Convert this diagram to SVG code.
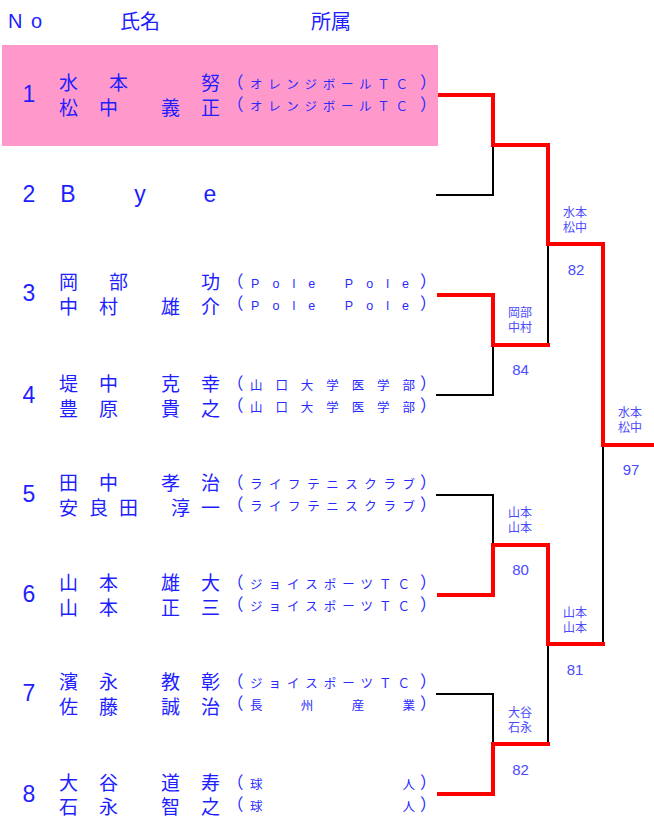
<svg xmlns="http://www.w3.org/2000/svg" width="654" height="818" viewBox="0 0 654 818">
<style>
.hd{font-family:"Liberation Sans","Noto Sans CJK JP",sans-serif;font-size:20px;fill:#1e1eff}
.nm{font-family:"Noto Sans CJK JP",sans-serif;font-size:19px;fill:#1e1eff}
.no{font-family:"Liberation Sans",sans-serif;font-size:23px;fill:#1e1eff;text-anchor:middle}
.af{font-family:"Liberation Sans","Noto Sans CJK JP",sans-serif;font-size:12.5px;fill:#2a2aff}
.pr{font-family:"Noto Sans CJK JP",sans-serif;font-size:16.5px;fill:#2a2aff}
.lb{font-family:"Noto Sans CJK JP",sans-serif;font-size:12px;fill:#4a4aff;text-anchor:middle}
.sc{font-family:"Liberation Sans",sans-serif;font-size:15px;fill:#4a4aff;text-anchor:middle}
.red{stroke:#ff0000;stroke-width:4;fill:none;stroke-linejoin:miter;stroke-linecap:square}
.blk{stroke:#000;stroke-width:2;fill:none;stroke-linecap:square}
</style>
<rect x="0" y="0" width="654" height="818" fill="#ffffff"/>
<g id="header">
<text class="hd" x="8 31" y="28">No</text>
<text class="hd" x="120" y="28.5">氏名</text>
<text class="hd" x="311" y="28.5">所属</text>
</g>
<rect id="highlight" x="2" y="45" width="436" height="101" fill="#ff99cc"/>
<g id="connectors">
<path class="blk" d="M437 195 H493 V145"/>
<path class="blk" d="M437 395 H493 V345"/>
<path class="blk" d="M548 244 V345"/>
<path class="blk" d="M437 495 H493 V545"/>
<path class="blk" d="M603 445 V644"/>
<path class="blk" d="M437 694 H493 V744"/>
<path class="blk" d="M548 644 V744"/>
<path class="red" d="M440 95 H493 V145 H548 V244 H603 V445 H656"/>
<path class="red" d="M439 295 H493 V345 H548"/>
<path class="red" d="M439 595 H493 V545 H548 V644 H603"/>
<path class="red" d="M439 794 H493 V744 H548"/>
</g>
<g id="entry1">
<text class="no" x="29" y="102">1</text>
<text class="nm" x="59 109 201" y="90">水本努</text>
<text class="nm" x="59 99 161 201" y="115">松中義正</text>
<text class="pr" x="227" y="89">（</text><text class="af" x="250" y="88.5" textLength="158" lengthAdjust="spacing">オレンジボールＴＣ</text><text class="pr" x="420" y="89">）</text>
<text class="pr" x="227" y="111">（</text><text class="af" x="250" y="110.5" textLength="158" lengthAdjust="spacing">オレンジボールＴＣ</text><text class="pr" x="420" y="111">）</text>
</g>
<g id="entry2">
<text class="no" x="29" y="202">2</text>
<text class="no" x="68 140 210" y="202">Bye</text>
</g>
<g id="entry3">
<text class="no" x="29" y="301">3</text>
<text class="nm" x="59 109 201" y="289">岡部功</text>
<text class="nm" x="59 99 161 201" y="314">中村雄介</text>
<text class="pr" x="227" y="288">（</text><text class="af" x="251" y="287.5" textLength="158" lengthAdjust="spacing">Pole Pole</text><text class="pr" x="420" y="288">）</text>
<text class="pr" x="227" y="310">（</text><text class="af" x="251" y="309.5" textLength="158" lengthAdjust="spacing">Pole Pole</text><text class="pr" x="420" y="310">）</text>
</g>
<g id="entry4">
<text class="no" x="29" y="403">4</text>
<text class="nm" x="59 99 161 201" y="391">堤中克幸</text>
<text class="nm" x="59 99 161 201" y="416">豊原貴之</text>
<text class="pr" x="227" y="390">（</text><text class="af" x="250" y="389.5" textLength="165" lengthAdjust="spacing">山口大学医学部</text><text class="pr" x="420" y="390">）</text>
<text class="pr" x="227" y="412">（</text><text class="af" x="250" y="411.5" textLength="165" lengthAdjust="spacing">山口大学医学部</text><text class="pr" x="420" y="412">）</text>
</g>
<g id="entry5">
<text class="no" x="29" y="502">5</text>
<text class="nm" x="59 99 161 201" y="490">田中孝治</text>
<text class="nm" x="59 89 119 171 201" y="515">安良田淳一</text>
<text class="pr" x="227" y="489">（</text><text class="af" x="250" y="488.5" textLength="165" lengthAdjust="spacing">ライフテニスクラブ</text><text class="pr" x="420" y="489">）</text>
<text class="pr" x="227" y="511">（</text><text class="af" x="250" y="510.5" textLength="165" lengthAdjust="spacing">ライフテニスクラブ</text><text class="pr" x="420" y="511">）</text>
</g>
<g id="entry6">
<text class="no" x="29" y="602">6</text>
<text class="nm" x="59 99 161 201" y="590">山本雄大</text>
<text class="nm" x="59 99 161 201" y="615">山本正三</text>
<text class="pr" x="227" y="589">（</text><text class="af" x="250" y="588.5" textLength="160" lengthAdjust="spacing">ジョイスポーツＴＣ</text><text class="pr" x="420" y="589">）</text>
<text class="pr" x="227" y="611">（</text><text class="af" x="250" y="610.5" textLength="160" lengthAdjust="spacing">ジョイスポーツＴＣ</text><text class="pr" x="420" y="611">）</text>
</g>
<g id="entry7">
<text class="no" x="29" y="701">7</text>
<text class="nm" x="59 99 161 201" y="689">濱永教彰</text>
<text class="nm" x="59 99 161 201" y="714">佐藤誠治</text>
<text class="pr" x="227" y="688">（</text><text class="af" x="250" y="687.5" textLength="160" lengthAdjust="spacing">ジョイスポーツＴＣ</text><text class="pr" x="420" y="688">）</text>
<text class="pr" x="227" y="710">（</text><text class="af" x="250" y="709.5" textLength="165" lengthAdjust="spacing">長州産業</text><text class="pr" x="420" y="710">）</text>
</g>
<g id="entry8">
<text class="no" x="29" y="802">8</text>
<text class="nm" x="59 99 161 201" y="790">大谷道寿</text>
<text class="nm" x="59 99 161 201" y="814">石永智之</text>
<text class="pr" x="227" y="789">（</text><text class="af" x="250" y="788.5" textLength="165" lengthAdjust="spacing">球人</text><text class="pr" x="420" y="789">）</text>
<text class="pr" x="227" y="811">（</text><text class="af" x="250" y="810.5" textLength="165" lengthAdjust="spacing">球人</text><text class="pr" x="420" y="811">）</text>
</g>
<g id="result-r1m1">
<text class="lb" x="575" y="217">水本<tspan x="575" y="231.5">松中</tspan></text>
<text class="sc" x="576" y="275">82</text>
</g>
<g id="result-r1m2">
<text class="lb" x="520" y="317">岡部<tspan x="520" y="331.5">中村</tspan></text>
<text class="sc" x="520.5" y="375">84</text>
</g>
<g id="result-final">
<text class="lb" x="630" y="417">水本<tspan x="630" y="431.5">松中</tspan></text>
<text class="sc" x="631" y="475">97</text>
</g>
<g id="result-r1m3">
<text class="lb" x="520" y="517">山本<tspan x="520" y="531.5">山本</tspan></text>
<text class="sc" x="520.5" y="575">80</text>
</g>
<g id="result-r2m2">
<text class="lb" x="575" y="617">山本<tspan x="575" y="631.5">山本</tspan></text>
<text class="sc" x="575" y="675">81</text>
</g>
<g id="result-r1m4">
<text class="lb" x="520" y="717">大谷<tspan x="520" y="731.5">石永</tspan></text>
<text class="sc" x="520.5" y="775">82</text>
</g>
</svg>
